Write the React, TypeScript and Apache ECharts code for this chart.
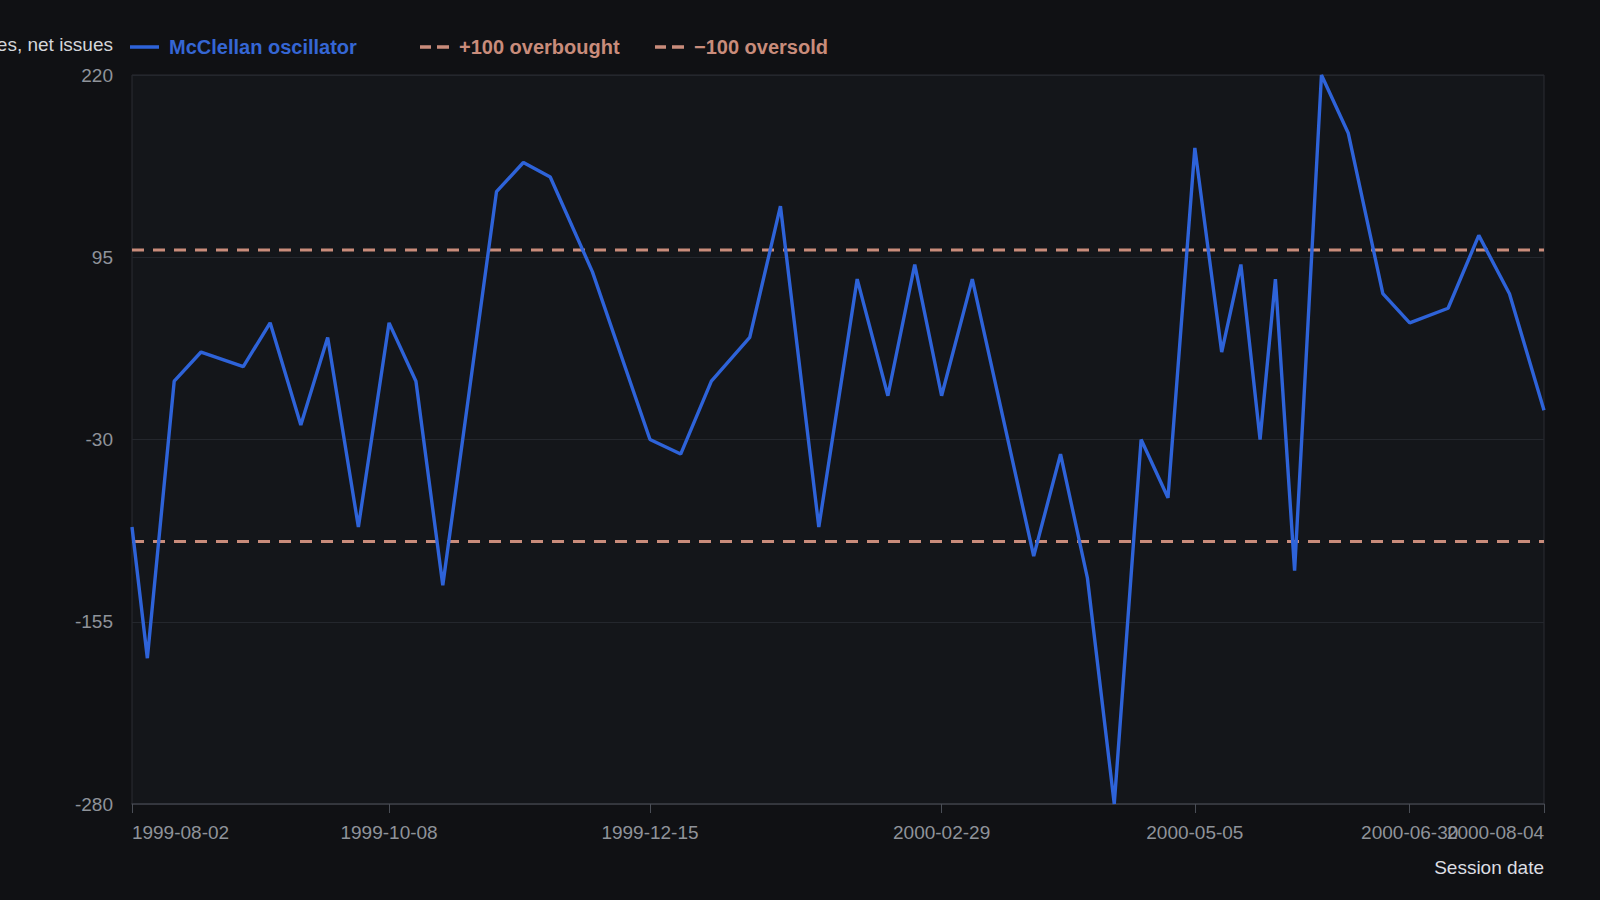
import { useEffect, useRef } from 'react';
import * as echarts from 'echarts';

// weekly-ish sessions, values
const sessionDates = [
  '1999-08-02', '1999-08-06', '1999-08-13', '1999-08-20', '1999-08-31',
  '1999-09-07', '1999-09-15', '1999-09-22', '1999-09-30', '1999-10-08',
  '1999-10-15', '1999-10-22', '1999-11-05', '1999-11-12', '1999-11-19',
  '1999-11-30', '1999-12-15', '1999-12-23', '1999-12-31', '2000-01-10',
  '2000-01-18', '2000-01-28', '2000-02-07', '2000-02-15', '2000-02-22',
  '2000-02-29', '2000-03-08', '2000-03-24', '2000-03-31', '2000-04-07',
  '2000-04-14', '2000-04-21', '2000-04-28', '2000-05-05', '2000-05-12',
  '2000-05-17', '2000-05-22', '2000-05-26', '2000-05-31', '2000-06-07',
  '2000-06-14', '2000-06-23', '2000-06-30', '2000-07-10', '2000-07-18',
  '2000-07-26', '2000-08-04',
];

const oscillator = [
  -90, -180, 10, 30, 20,
  50, -20, 40, -90, 50,
  10, -130, 140, 160, 150,
  85, -30, -40, 10, 40,
  130, -90, 80, 0, 90,
  0, 80, -110, -40, -125,
  -280, -30, -70, 170, 30,
  90, -30, 80, -120, 220,
  180, 70, 50, 60, 110,
  70, -10,
];

const overbought = 100;
const oversold = -100;

const xTickDates = ['1999-08-02', '1999-10-08', '1999-12-15', '2000-02-29', '2000-05-05', '2000-06-30', '2000-08-04'];
const yTicks = [-280, -155, -30, 95, 220];

const toTime = (s: string) => {
  const [y, m, d] = s.split('-').map(Number);
  return new Date(y, m - 1, d).getTime();
};

const BLUE = '#2e63d9';
const SALMON = '#c98c7b';
const LABEL = '#8f939a';
const FONT = '"Liberation Sans", Arial, Helvetica, sans-serif';

const SOLID_ICON = 'path://M0,0h29v3.5h-29z';
const DASH_ICON = 'path://M0,0h11v3.5h-11z M17,0h12v3.5h-12z';

export default function App() {
  const chartRef = useRef<HTMLDivElement>(null);

  useEffect(() => {
    if (!chartRef.current) return;
    const chart = echarts.init(chartRef.current, null, { renderer: 'svg' });

    const xMin = toTime(sessionDates[0]);
    const xMax = toTime(sessionDates[sessionDates.length - 1]);
    const xTicks = xTickDates.map(toTime);
    const pad2 = (n: number) => String(n).padStart(2, '0');
    const fmtDate = (t: number) => {
      const d = new Date(t);
      return `${d.getFullYear()}-${pad2(d.getMonth() + 1)}-${pad2(d.getDate())}`;
    };
    // first label starts at its tick, last label ends at its tick
    const dateLabel = (val: number) => {
      const s = fmtDate(val);
      if (val === xMin) return `{l|${s}}`;
      if (val === xMax) return `{r|${s}}`;
      return s;
    };
    const labelRich = {
      l: { color: LABEL, fontSize: 19, padding: [0, 0, 0, 97] },
      r: { color: LABEL, fontSize: 19, padding: [0, 97, 0, 0] },
    };

    const legendBase = {
      top: 37,
      padding: 0,
      itemWidth: 29,
      itemHeight: 3.5,
      textStyle: { fontFamily: FONT, fontSize: 20, fontWeight: 'bold' as const, padding: [0, 0, 0, 5] },
      selectedMode: false,
    };

    const option: echarts.EChartsOption = {
      animation: false,
      backgroundColor: '#101114',
      textStyle: { fontFamily: FONT },
      legend: [
        { ...legendBase, left: 130, data: [{ name: 'McClellan oscillator', icon: SOLID_ICON, itemStyle: { color: BLUE }, textStyle: { color: '#3566d4' } }] },
        { ...legendBase, left: 420, data: [{ name: '+100 overbought', icon: DASH_ICON, itemStyle: { color: SALMON }, textStyle: { color: SALMON } }] },
        { ...legendBase, left: 655, data: [{ name: '\u2212100 oversold', icon: DASH_ICON, itemStyle: { color: SALMON }, textStyle: { color: SALMON } }] },
      ],
      grid: {
        left: 132,
        right: 56,
        top: 75,
        bottom: 96,
        show: true,
        backgroundColor: '#14161a',
        borderColor: '#2a2d33',
        borderWidth: 1,
        containLabel: false,
        outerBoundsMode: 'none',
      } as any,
      xAxis: [
        {
          type: 'value',
          position: 'bottom',
          min: xMin,
          max: xMax,
          name: 'Session date',
          nameLocation: 'end',
          nameGap: 0,
          nameTextStyle: {
            color: '#dcdee2',
            fontSize: 19,
            align: 'right',
            verticalAlign: 'top',
            padding: [54, 0, 0, 0],
          },
          axisLine: { show: true, onZero: false, lineStyle: { color: '#3b3e45', width: 1.5 } },
          axisTick: { show: true, length: 9, customValues: xTicks, lineStyle: { color: '#4a4e56' } },
          axisLabel: {
            customValues: xTicks.slice(0, -1),
            showMinLabel: true,
            showMaxLabel: true,
            formatter: dateLabel,
            rich: labelRich,
            color: LABEL,
            fontSize: 19,
            margin: 19,
          },
          splitLine: { show: false },
        },
        {
          // carries only the last date label, so it may overlap its neighbour as in the reference
          type: 'value',
          position: 'bottom',
          min: xMin,
          max: xMax,
          axisLine: { show: false, onZero: false },
          axisTick: { show: false },
          axisLabel: {
            customValues: xTicks.slice(-1),
            showMinLabel: true,
            showMaxLabel: true,
            formatter: dateLabel,
            rich: labelRich,
            color: LABEL,
            fontSize: 19,
            margin: 19,
          },
          splitLine: { show: false },
        },
      ] as any,
      yAxis: {
        type: 'value',
        min: -280,
        max: 220,
        name: 'Advances minus declines, net issues',
        nameLocation: 'end',
        nameGap: 31,
        nameTextStyle: {
          color: '#d4d6da',
          fontSize: 19,
          align: 'right',
          verticalAlign: 'middle',
          padding: [0, 19, 0, 0],
        },
        axisLine: { show: false },
        axisTick: { show: false, customValues: yTicks },
        axisLabel: { customValues: yTicks, color: LABEL, fontSize: 19, margin: 19 },
        splitLine: { show: true, lineStyle: { color: '#24272d', width: 1 } },
      } as any,
      series: [
        {
          name: 'McClellan oscillator',
          type: 'line',
          symbol: 'none',
          data: sessionDates.map((d, i) => [toTime(d), oscillator[i]]),
          lineStyle: { color: BLUE, width: 3.4 },
          itemStyle: { color: BLUE },
          z: 3,
        },
        {
          name: '+100 overbought',
          type: 'line',
          symbol: 'none',
          data: [[xMin, overbought], [xMax, overbought]],
          lineStyle: { color: SALMON, width: 3, type: [12, 9] },
          itemStyle: { color: SALMON },
          z: 2,
        },
        {
          name: '\u2212100 oversold',
          type: 'line',
          symbol: 'none',
          data: [[xMin, oversold], [xMax, oversold]],
          lineStyle: { color: SALMON, width: 3, type: [12, 9] },
          itemStyle: { color: SALMON },
          z: 2,
        },
      ],
    };

    chart.setOption(option);

    const handleResize = () => chart.resize();
    window.addEventListener('resize', handleResize);
    return () => {
      window.removeEventListener('resize', handleResize);
      chart.dispose();
    };
  }, []);

  return (
    <div
      ref={chartRef}
      style={{ position: 'fixed', left: 0, top: 0, width: '100vw', height: '100vh' }}
    />
  );
}
